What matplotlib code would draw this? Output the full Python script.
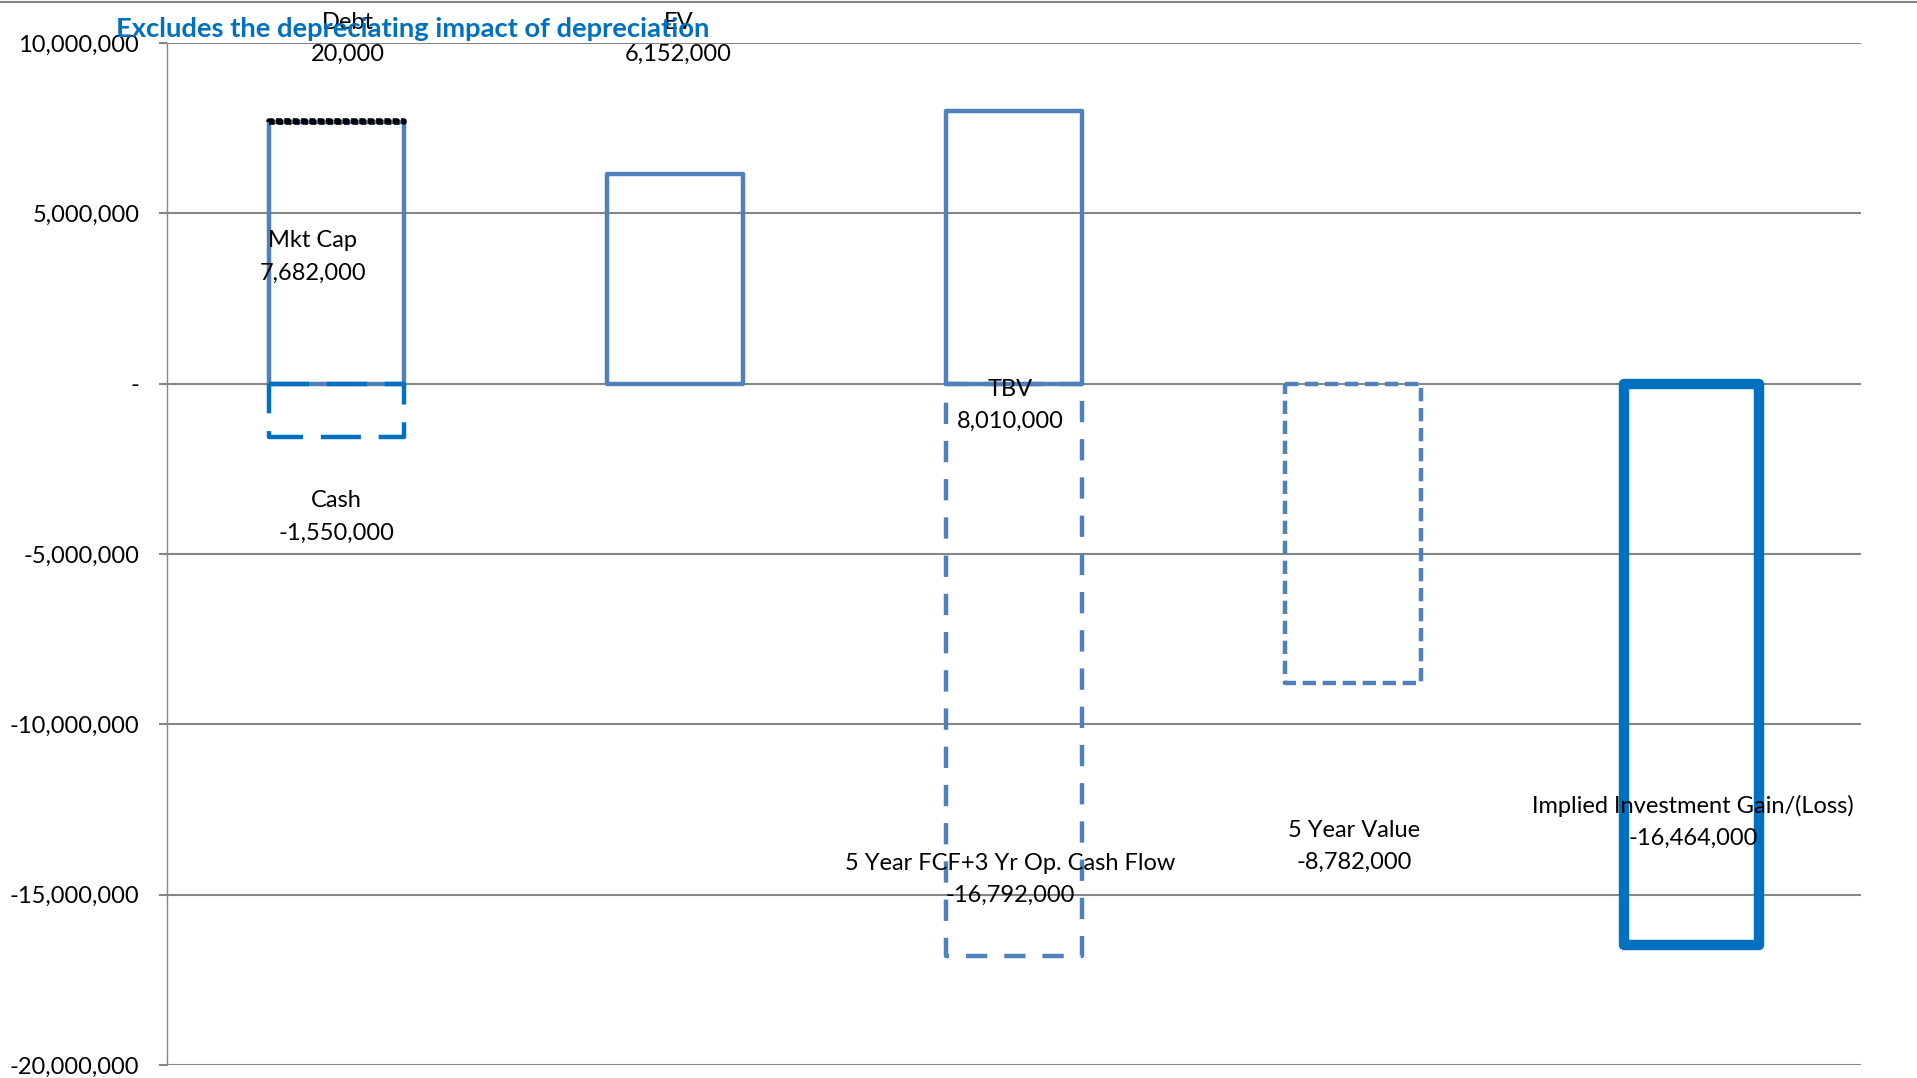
import matplotlib
matplotlib.use("Agg")
import matplotlib.pyplot as plt
from matplotlib.lines import Line2D
from matplotlib.ticker import FuncFormatter, MultipleLocator

# chart data
segment_names = ["Mkt Cap", "Debt", "Cash", "EV", "TBV",
                 "5 Year FCF+3 Yr Op. Cash Flow", "5 Year Value",
                 "Implied Investment Gain/(Loss)"]
segment_values = [7682000, 20000, -1550000, 6152000, 8010000,
                  -16792000, -8782000, -16464000]
segment_cat = [0, 0, 0, 1, 2, 2, 3, 4]
# index of the segment a segment sits on top of (-1 = starts at zero)
stacked_on = [-1, 0, -1, -1, -1, -1, -1, -1]
title = "Excludes the depreciating impact of depreciation"

# styling per segment
blue = "#4F81BD"
dark_blue = "#0070C0"
edge_colors = [blue, "black", dark_blue, blue, blue, blue, blue, dark_blue]
line_widths = [3.2, 4, 3.2, 3.2, 3.2, 3.2, 3.2, 7.5]
line_styles = ["-", (0, (1, 0.5)), (0, (9, 4)), "-", "-",
               (0, (4.8, 3.8)), (0, (3, 1.5)), "-"]
# label positions (x in category units, y in data units)
label_pos = [(0.43, 3.72e6), (0.535, 10.14e6), (0.5, -3.91e6),
             (1.51, 10.14e6), (2.49, -0.63e6), (2.49, -14.55e6),
             (3.505, -13.58e6), (4.505, -12.86e6)]

font = "Lato"
plt.rcParams['font.family'] = [font, 'DejaVu Sans']

fig = plt.figure(figsize=(19.17, 10.78), dpi=100)
ax = fig.add_axes([0.0871, 0.01206, 0.8837, 0.948])

bottoms = []
for i, v in enumerate(segment_values):
    if stacked_on[i] < 0:
        bottoms.append(0)
    else:
        j = stacked_on[i]
        bottoms.append(bottoms[j] + segment_values[j])

for i in range(len(segment_values)):
    ax.bar(segment_cat[i] + 0.5, segment_values[i], width=0.4, bottom=bottoms[i],
           fill=False, edgecolor=edge_colors[i], linewidth=line_widths[i],
           linestyle=line_styles[i], joinstyle='round', zorder=3 + (i == 1))

for i, name in enumerate(segment_names):
    x, y = label_pos[i]
    ax.text(x, y, "%s\n%s" % (name, format(segment_values[i], ",")),
            ha='center', va='center', fontsize=17, color='black',
            linespacing=1.65, zorder=6)

ax.set_xlim(0, 5)
ax.set_ylim(-20e6, 10e6)
ax.yaxis.set_major_locator(MultipleLocator(5e6))
ax.yaxis.set_major_formatter(FuncFormatter(lambda v, p: "-" if v == 0 else format(int(v), ",")))
ax.set_xticks([])
ax.grid(axis='y', color='#868686', linewidth=1.5, zorder=0)
ax.tick_params(axis='y', length=6, width=1.5, color='#868686', pad=14, labelsize=17)
for s in ['top', 'right', 'bottom']:
    ax.spines[s].set_visible(False)
ax.spines['left'].set_color('#868686')
ax.spines['left'].set_linewidth(1)

fig.text(116 / 1917, 1 - 29 / 1078, title, fontsize=19.7, fontweight='bold',
         color=dark_blue, ha='left', va='center')
fig.add_artist(Line2D([0, 1], [1 - 2 / 1078, 1 - 2 / 1078], color='#868686', linewidth=1.5))

fig.savefig("out.png", dpi=100)
